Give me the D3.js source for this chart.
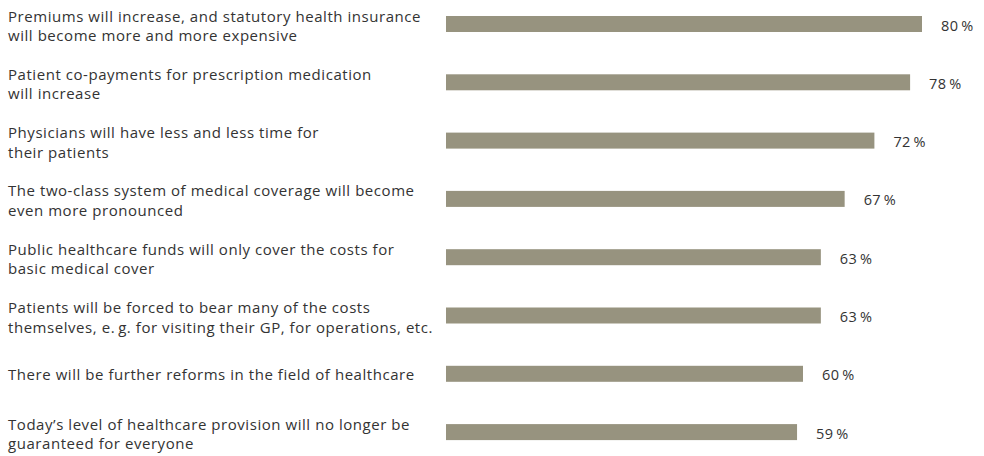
<!DOCTYPE html>
<html>
<head>
<meta charset="utf-8">
<script src="https://cdn.jsdelivr.net/npm/d3@7"></script>
<style>
  html, body { margin: 0; padding: 0; background: #ffffff; }
  svg { display: block; }
  text { font-family: "Open Sans", "Noto Sans", sans-serif; fill: #333333; }
</style>
</head>
<body>
<svg id="chart" width="984" height="456"></svg>
<script>
// Survey statements (each entry is the wrapped lines of one label)
const statements = [
  ["Premiums will increase, and statutory health insurance", "will become more and more expensive"],
  ["Patient co-payments for prescription medication", "will increase"],
  ["Physicians will have less and less time for", "their patients"],
  ["The two-class system of medical coverage will become", "even more pronounced"],
  ["Public healthcare funds will only cover the costs for", "basic medical cover"],
  ["Patients will be forced to bear many of the costs", "themselves, e.\u2009g. for visiting their GP, for operations, etc."],
  ["There will be further reforms in the field of healthcare"],
  ["Today\u2019s level of healthcare provision will no longer be", "guaranteed for everyone"]
];

// Share of respondents agreeing, in percent
const shares = [80, 78, 72, 67, 63, 63, 60, 59];

const svg = d3.select("#chart");

const barLeft = 446;
const x = d3.scaleLinear().domain([0, 100]).range([barLeft, barLeft + 595]);

const rowTop = 16, rowStep = 58.3;
const y = d3.scaleBand()
  .domain(d3.range(shares.length))
  .range([rowTop, rowTop + shares.length * rowStep])
  .paddingInner(0)
  .paddingOuter(0);

const barH = 16;
const barColor = "#97937f";

const rows = svg.selectAll("g.row")
  .data(shares.map((v, i) => ({ v, i, lines: statements[i] })))
  .join("g")
  .attr("class", "row");

rows.append("rect")
  .attr("x", x(0))
  .attr("y", d => y(d.i))
  .attr("width", d => x(d.v) - x(0))
  .attr("height", barH)
  .attr("fill", barColor);

rows.append("text")
  .attr("x", d => x(d.v) + 19)
  .attr("y", d => y(d.i) + barH - 1.5)
  .attr("font-size", 14.5)
  .attr("letter-spacing", 0.4)
  .text(d => d.v + "\u2009%");

rows.each(function (d) {
  const g = d3.select(this);
  const center = y(d.i) + barH / 2;
  const n = d.lines.length;
  const first = n === 2 ? center - 2.5 : center + 6.5;
  d.lines.forEach((line, k) => {
    g.append("text")
      .attr("x", 8)
      .attr("y", first + k * 19.5)
      .attr("font-size", 15)
      .attr("letter-spacing", 0.55)
      .text(line);
  });
});
</script>
</body>
</html>
